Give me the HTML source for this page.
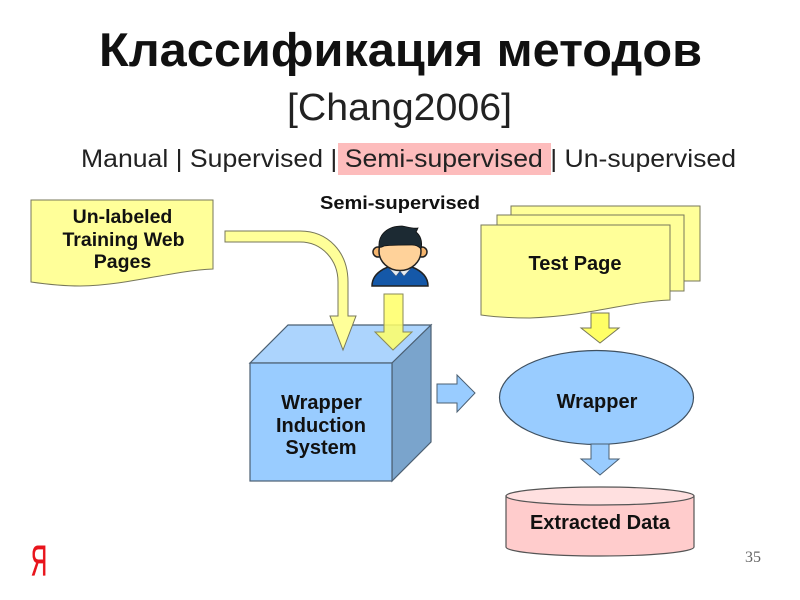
<!DOCTYPE html>
<html>
<head>
<meta charset="utf-8">
<style>
html,body{margin:0;padding:0;background:#fff}
svg{display:block;filter:blur(0.35px)}
text{font-family:"Liberation Sans",sans-serif}
.b{font-weight:bold;fill:#111;font-size:20px;text-anchor:middle}
</style>
</head>
<body>
<svg width="800" height="600" viewBox="0 0 800 600" xmlns="http://www.w3.org/2000/svg">
<rect width="800" height="600" fill="#fff"/>
<text x="99" y="66" font-size="47" font-weight="bold" fill="#111" textLength="603" lengthAdjust="spacingAndGlyphs">Классификация методов</text>
<text x="287" y="120" font-size="38" fill="#222" textLength="225" lengthAdjust="spacingAndGlyphs">[Chang2006]</text>
<rect x="338" y="143" width="213" height="32" fill="#fdbcbc"/>
<text x="81" y="167" font-size="25" fill="#222" textLength="655" lengthAdjust="spacingAndGlyphs">Manual | Supervised | Semi-supervised | Un-supervised</text>

<!-- Un-labeled doc -->
<path d="M31 200H213V269C170 271 130 285 80 286C60 286 45 284 31 282Z" fill="#ffff99" stroke="#77775a" stroke-width="1"/>
<text class="b" x="122.500" y="223" style="font-size:19.500px">Un-labeled</text>
<text class="b" x="123.500" y="246" style="font-size:19.500px">Training Web</text>
<text class="b" x="122.500" y="268" style="font-size:19.500px">Pages</text>

<text x="320" y="209" font-size="18.500" font-weight="bold" fill="#111" textLength="160" lengthAdjust="spacingAndGlyphs">Semi-supervised</text>

<!-- Cube -->
<path d="M250 363L288 325H431L392 363Z" fill="#acd4fd" stroke="#4b5f72" stroke-width="1.200"/>
<path d="M392 363L431 325V442L392 481Z" fill="#7aa4cc" stroke="#4b5f72" stroke-width="1.200"/>
<rect x="250" y="363" width="142" height="118" fill="#99ccff" stroke="#4b5f72" stroke-width="1.200"/>
<text class="b" x="321.500" y="409">Wrapper</text>
<text class="b" x="321" y="432">Induction</text>
<text class="b" x="321" y="454">System</text>

<!-- Curved arrow -->
<path d="M225 231H300C328 231 348 252 348 282V316H356L343 350L330 316H338V282C338 260 322 242 300 242H225Z" fill="#ffff99" stroke="#77775a" stroke-width="1"/>

<!-- Person -->
<g>
<path d="M372 286C372 277 378 271 388 267H412C422 271 428 277 428 286Z" fill="#1558a8" stroke="#222" stroke-width="1.500"/>
<path d="M388 267L396 276L400 271L404 276L412 267Z" fill="#e6ecf2" stroke="#556" stroke-width="0.500"/>
<circle cx="378" cy="252" r="5" fill="#f5b56e" stroke="#222" stroke-width="1.500"/>
<circle cx="422" cy="252" r="5" fill="#f5b56e" stroke="#222" stroke-width="1.500"/>
<ellipse cx="400" cy="251" rx="21" ry="19.500" fill="#ffd29a" stroke="#222" stroke-width="1.500"/>
<path d="M379 247C378 234 388 226 402 226C408 227 413 229 418 228C417 230 417 231 416 232C420 235 423 241 421 249C418 246 416 245 412 245C402 245 392 245 384 246C382 247 381 248 379 247Z" fill="#1c2a33" stroke="#111" stroke-width="0.800"/>
</g>

<!-- Yellow down arrow semi-transparent -->
<path d="M384 294H403V332H412L393 350L375 332H384Z" fill="#ffff66" fill-opacity="0.850" stroke="#8a8a5a" stroke-width="1"/>

<!-- Right arrow -->
<path d="M437 384H457V375L475 393L457 412V403H437Z" fill="#99ccff" stroke="#4b5f72" stroke-width="1"/>

<!-- Test pages -->
<rect x="511" y="206" width="189" height="75" fill="#ffff99" stroke="#77775a" stroke-width="1"/>
<rect x="497" y="215" width="187" height="76" fill="#ffff99" stroke="#77775a" stroke-width="1"/>
<path d="M481 225H670V300C625 302 590 316 530 318C510 318 495 317 481 315Z" fill="#ffff99" stroke="#77775a" stroke-width="1"/>
<text class="b" x="575" y="270">Test Page</text>

<!-- Yellow arrow -->
<path d="M591 313H609V328H619L600 343L581 328H591Z" fill="#ffff66" stroke="#77775a" stroke-width="1"/>

<!-- Wrapper -->
<ellipse cx="596.500" cy="397.500" rx="97" ry="47" fill="#99ccff" stroke="#3f5060" stroke-width="1.200"/>
<text class="b" x="597" y="408">Wrapper</text>

<!-- Blue arrow -->
<path d="M591 444H609V459H619L600 475L581 459H591Z" fill="#99ccff" stroke="#4b5f72" stroke-width="1"/>

<!-- Cylinder -->
<path d="M506 496V547C506 552 548 556 600 556C652 556 694 552 694 547V496Z" fill="#ffcccc" stroke="#555" stroke-width="1.200"/>
<ellipse cx="600" cy="496" rx="94" ry="9" fill="#ffe0e0" stroke="#555" stroke-width="1.200"/>
<text class="b" x="600" y="529">Extracted Data</text>

<!-- Number -->
<text x="745" y="562" font-size="16" fill="#666" style="font-family:'Liberation Serif',serif">35</text>

<!-- Logo -->
<text x="31" y="575" font-size="43" fill="#e8141c" stroke="#e8141c" stroke-width="0.700" textLength="16" lengthAdjust="spacingAndGlyphs">Я</text>
</svg>
</body>
</html>
